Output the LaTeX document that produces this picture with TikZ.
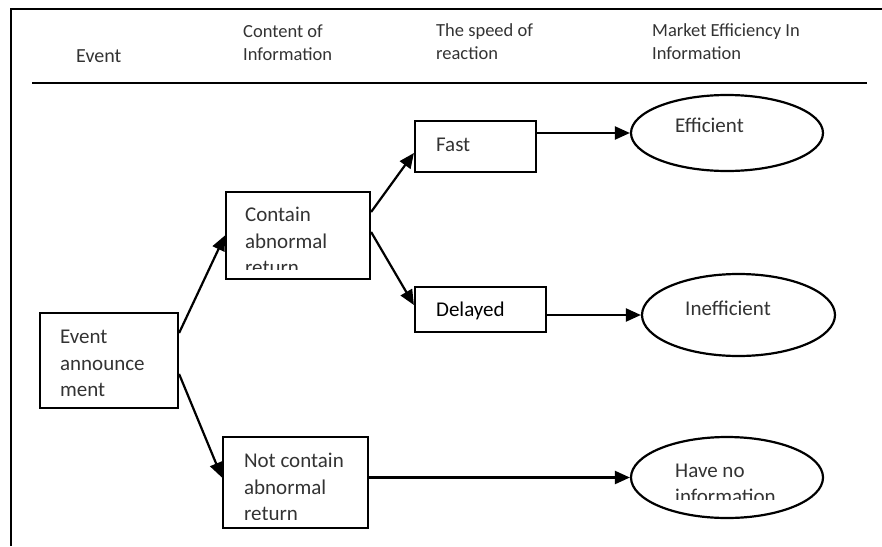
\documentclass[tikz,border=0pt]{standalone}
\usepackage{fontspec}
\setmainfont{Carlito}
\usetikzlibrary{arrows.meta,calc,shapes.geometric}
\def\stack#1{\begin{tabular}[t]{@{}l@{}}#1\end{tabular}}

\begin{document}
\begin{tikzpicture}[x=1pt,y=-1pt,>={Triangle[length=15pt,width=13pt]},
  box/.style={draw,line width=2.2pt,inner sep=0pt},
  oval/.style={draw,ellipse,line width=2.2pt,inner sep=0pt},
  txt/.style={anchor=base west,inner sep=0pt,text=black!80,font=\fontsize{21}{26.5}\selectfont},
  head/.style={anchor=base west,inner sep=0pt,text=black!80,font=\fontsize{18.5}{23}\selectfont},
  link/.style={->,line width=2.2pt}]
\useasboundingbox (0,0) rectangle (882,546);
% frame and column heads
\draw[line width=2.2pt] (11,546) -- (11,9) -- (882,9);
\draw[line width=2.2pt] (32,83) -- (867,83);
\node[head,font=\fontsize{20}{24}\selectfont] (hevent) at (76,62) {Event};
\node[head] (hcontent) at (243,37) {\stack{Content of\\Information}};
\node[head] (hspeed) at (436,36) {\stack{The speed of\\reaction}};
\node[head] (hmarket) at (652,36) {\stack{Market Efficiency In\\Information}};
% boxes
\node[box,minimum width=138pt,minimum height=95pt] (ev) at (109,360.5) {};
\node[box,minimum width=144pt,minimum height=87pt] (con) at (298,235.5) {};
\node[box,minimum width=145pt,minimum height=91pt] (notcon) at (295.5,482.5) {};
\node[box,minimum width=121pt,minimum height=51pt] (fast) at (475.5,146.5) {};
\node[box,minimum width=131pt,minimum height=45pt] (delay) at (480.5,309.5) {};
\node[oval,minimum width=192pt,minimum height=76pt] (eff) at (727,133) {};
\node[oval,minimum width=193pt,minimum height=82pt] (ineff) at (738.5,315) {};
\node[oval,minimum width=192pt,minimum height=81pt] (noinf) at (727,477.5) {};
% texts
\node[txt] (ev-t) at ($(ev.north west)+(21,32)$) {\stack{Event\\announce\\ment}};
\begin{scope}
\clip (con.north west) rectangle ($(con.south east)+(0,-11)$);
\node[txt] (con-t) at ($(con.north west)+(20,31)$) {\stack{Contain\\abnormal\\return}};
\end{scope}
\begin{scope}
\clip (notcon.north west) rectangle ($(notcon.south east)+(0,-10)$);
\node[txt] (notcon-t) at ($(notcon.north west)+(22,32)$) {\stack{Not contain\\abnormal\\return}};
\end{scope}
\node[txt] (fast-t) at ($(fast.north west)+(22,32)$) {Fast};
\node[txt,text=black] (delay-t) at ($(delay.north west)+(22,31)$) {Delayed};
\node[txt] (eff-t) at ($(eff.center)+(-52,-1)$) {Efficient};
\node[txt] (ineff-t) at ($(ineff.center)+(-53.5,0)$) {Inefficient};
\begin{scope}
\clip ($(noinf.center)+(-100,-50)$) rectangle ($(noinf.center)+(100,22)$);
\node[txt] (noinf-t) at ($(noinf.center)+(-52,-0.5)$) {\stack{Have no\\information}};
\end{scope}
% arrows
\draw[link] ($(ev.east)+(0,-27.5)$) -- (con.west);
\draw[link] ($(ev.east)+(0,13.5)$) -- ($(notcon.west)+(0,-5)$);
\draw[link] ($(con.east)+(0,-23.5)$) -- ($(fast.west)+(0,6.5)$);
\draw[link] ($(con.east)+(0,-3.5)$) -- ($(delay.west)+(0,-4.5)$);
\draw[link] (fast.east |- eff.west) -- (eff.west);
\draw[link] (delay.east |- ineff.west) -- (ineff.west);
\draw[link] (notcon.east |- noinf.west) -- (noinf.west);
\end{tikzpicture}
\end{document}
